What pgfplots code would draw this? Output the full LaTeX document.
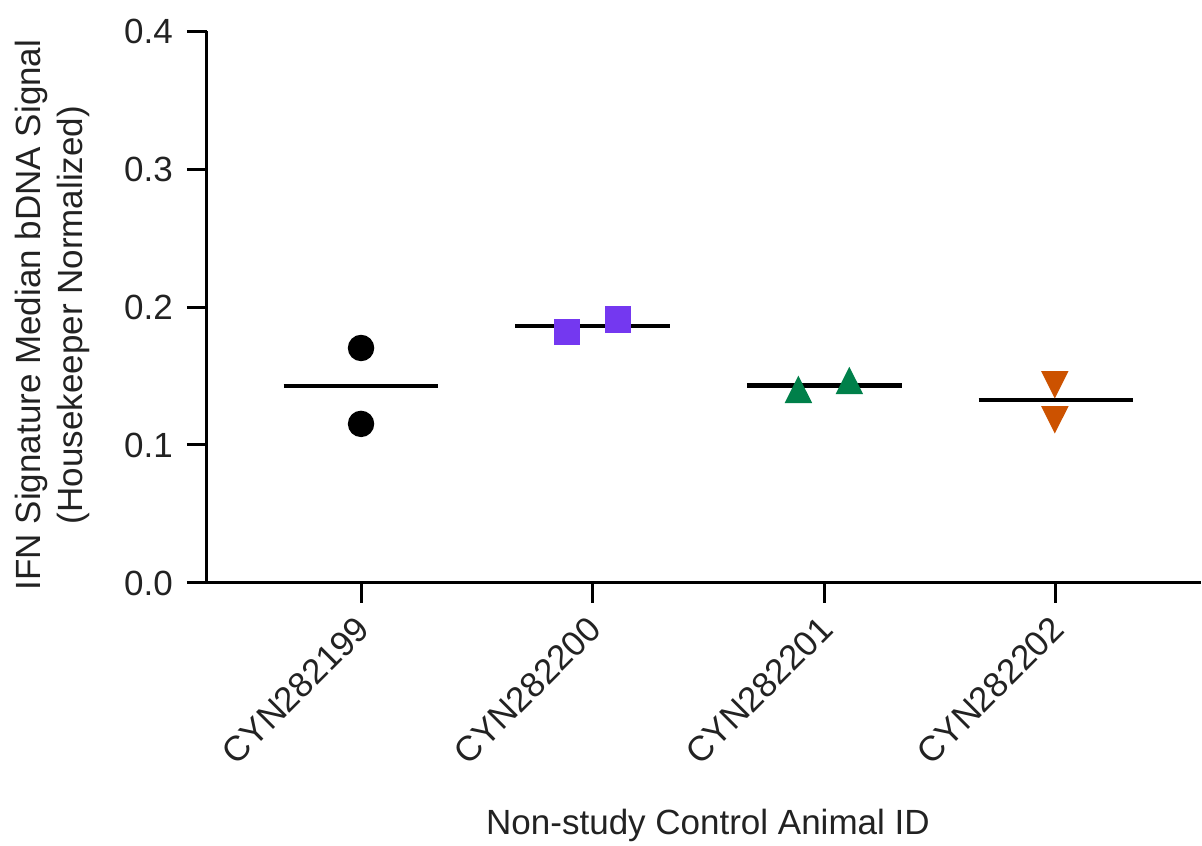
\documentclass[border=0pt]{standalone}
\usepackage{fontspec}
\setmainfont{Liberation Sans}
\usepackage{pgfplots}
\pgfplotsset{compat=1.18}

\definecolor{txt}{HTML}{222222}
\definecolor{cpurple}{RGB}{116,56,240}
\definecolor{cgreen}{RGB}{0,128,74}
\definecolor{corange}{RGB}{204,82,0}

\begin{document}
\begin{tikzpicture}
\useasboundingbox (0,0) rectangle (300.5pt,211.5pt);
\begin{axis}[
    at={(51.75pt,65.75pt)}, anchor=south west,
    scale only axis,
    width=248.5pt, height=138pt,
    xmin=-0.665, xmax=3.626,
    ymin=0, ymax=0.4,
    axis x line*=bottom, axis y line*=left,
    axis line style={line width=0.75pt, black},
    tick style={line width=0.75pt, black},
    tick align=outside,
    major tick length=5pt,
    xtick={0,1,2,3},
    xticklabels={CYN282199,CYN282200,CYN282201,CYN282202},
    ytick={0,0.1,0.2,0.3,0.4},
    yticklabel style={/pgf/number format/fixed, /pgf/number format/fixed zerofill,
        /pgf/number format/precision=1},
    /pgf/number format/assume math mode=true,
    ticklabel style={font=\fontsize{8.75}{10}\selectfont, text=txt},
    xticklabel style={xshift=3pt, yshift=-2.5pt, rotate=45, anchor=east},
    label style={font=\fontsize{8.75}{10.4}\selectfont, text=txt},
    ylabel={IFN Signature Median bDNA Signal\\(Housekeeper Normalized)},
    ylabel style={align=center, at={(axis description cs:-0.1554,0.4855)}, anchor=center},
    xlabel={Non-study Control Animal ID},
    xlabel style={at={(axis description cs:0.504,-0.440)}, anchor=center},
    clip=false,
]
% medians
\addplot[black, line width=1.15pt] coordinates {(-0.334,0.1428) (0.334,0.1428)};
\addplot[black, line width=1.15pt] coordinates {(0.666,0.1862) (1.334,0.1862)};
\addplot[black, line width=1.15pt] coordinates {(1.666,0.1430) (2.334,0.1430)};
\addplot[black, line width=1.15pt] coordinates {(2.666,0.1325) (3.334,0.1325)};
% individual values
\addplot[only marks, mark=*, mark size=3.1pt, black] coordinates {(0,0.1703) (0,0.1153)};
\addplot[only marks, mark=square*, mark size=3.1pt, draw=cpurple, fill=cpurple] coordinates {(0.890,0.1817) (1.109,0.1908)};
\addplot[only marks, mark=triangle*, mark size=3.6pt, mark options={yscale=1.15}, draw=cgreen, fill=cgreen] coordinates {(1.888,0.1370) (2.108,0.1434)};
\addplot[only marks, mark=triangle*, mark size=3.6pt, mark options={rotate=180, yscale=1.15}, draw=corange, fill=corange] coordinates {(2.995,0.1470) (2.995,0.1216)};
\end{axis}
\end{tikzpicture}
\end{document}
